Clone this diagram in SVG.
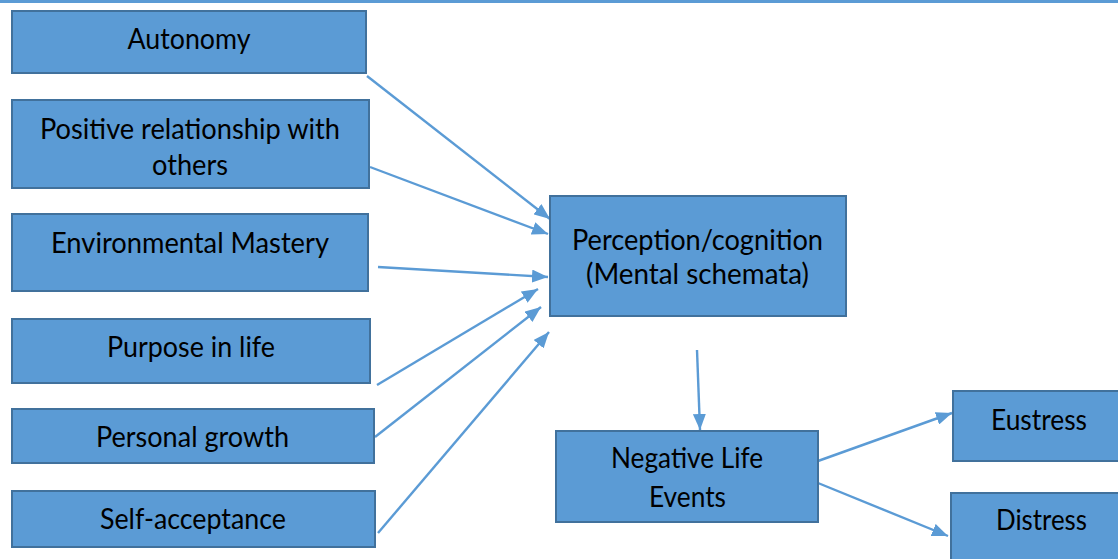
<svg xmlns="http://www.w3.org/2000/svg" width="1118" height="559" viewBox="0 0 1118 559">
<style>
.box{fill:#5b9bd5;stroke:#41719c;stroke-width:2}
.t{font-family:Lato,"Open Sans","Liberation Sans",sans-serif;font-size:28px;fill:#000;text-anchor:middle}
.c{stroke:#5b9bd5;stroke-width:2.4;fill:none;marker-end:url(#ah)}
</style>
<defs>
<marker id="ah" markerUnits="userSpaceOnUse" markerWidth="16" markerHeight="13" viewBox="0 0 16 13" refX="16" refY="6.5" orient="auto">
<path d="M0,0 L16,6.5 L0,13 z" fill="#5b9bd5"/>
</marker>
</defs>
<rect x="0" y="0" width="1118" height="3" fill="#5b9bd5"/>
<g id="connectors">
<line class="c" x1="367" y1="76" x2="550" y2="219"/>
<line class="c" x1="370" y1="167" x2="548" y2="234"/>
<line class="c" x1="378" y1="267" x2="548" y2="277"/>
<line class="c" x1="377" y1="385" x2="538" y2="289"/>
<line class="c" x1="375" y1="437" x2="541" y2="307"/>
<line class="c" x1="378" y1="533" x2="549" y2="332"/>
<line class="c" x1="697" y1="350" x2="700" y2="430"/>
<line class="c" x1="818" y1="461" x2="952" y2="413"/>
<line class="c" x1="818" y1="483" x2="948" y2="536"/>
</g>
<g id="autonomy">
<rect class="box" x="12" y="11" width="354" height="62"/>
<text class="t" x="189" y="49" textLength="123" lengthAdjust="spacingAndGlyphs">Autonomy</text>
</g>
<g id="positive">
<rect class="box" x="12" y="100" width="357" height="88"/>
<text class="t" x="190" y="139" textLength="300" lengthAdjust="spacingAndGlyphs">Positive relationship with</text>
<text class="t" x="190" y="175" textLength="76" lengthAdjust="spacingAndGlyphs">others</text>
</g>
<g id="environmental">
<rect class="box" x="12" y="214" width="356" height="77"/>
<text class="t" x="190" y="253" textLength="278" lengthAdjust="spacingAndGlyphs">Environmental Mastery</text>
</g>
<g id="purpose">
<rect class="box" x="12" y="319" width="358" height="64"/>
<text class="t" x="191" y="357" textLength="168" lengthAdjust="spacingAndGlyphs">Purpose in life</text>
</g>
<g id="personal">
<rect class="box" x="12" y="409" width="362" height="54"/>
<text class="t" x="192.5" y="447" textLength="193" lengthAdjust="spacingAndGlyphs">Personal growth</text>
</g>
<g id="self">
<rect class="box" x="12" y="491" width="363" height="56"/>
<text class="t" x="193" y="529" textLength="186" lengthAdjust="spacingAndGlyphs">Self-acceptance</text>
</g>
<g id="perception">
<rect class="box" x="550" y="196" width="296" height="120"/>
<text class="t" x="697.5" y="250" textLength="251" lengthAdjust="spacingAndGlyphs">Perception/cognition</text>
<text class="t" x="697.5" y="284" textLength="223" lengthAdjust="spacingAndGlyphs">(Mental schemata)</text>
</g>
<g id="negative">
<rect class="box" x="556" y="431" width="262" height="91"/>
<text class="t" x="687" y="468" textLength="152" lengthAdjust="spacingAndGlyphs">Negative Life</text>
<text class="t" x="687.5" y="507" textLength="77" lengthAdjust="spacingAndGlyphs">Events</text>
</g>
<g id="eustress">
<rect class="box" x="953" y="391" width="180" height="70"/>
<text class="t" x="1039" y="430" textLength="96" lengthAdjust="spacingAndGlyphs">Eustress</text>
</g>
<g id="distress">
<rect class="box" x="951" y="493" width="180" height="80"/>
<text class="t" x="1041.5" y="530" textLength="91" lengthAdjust="spacingAndGlyphs">Distress</text>
</g>
</svg>
